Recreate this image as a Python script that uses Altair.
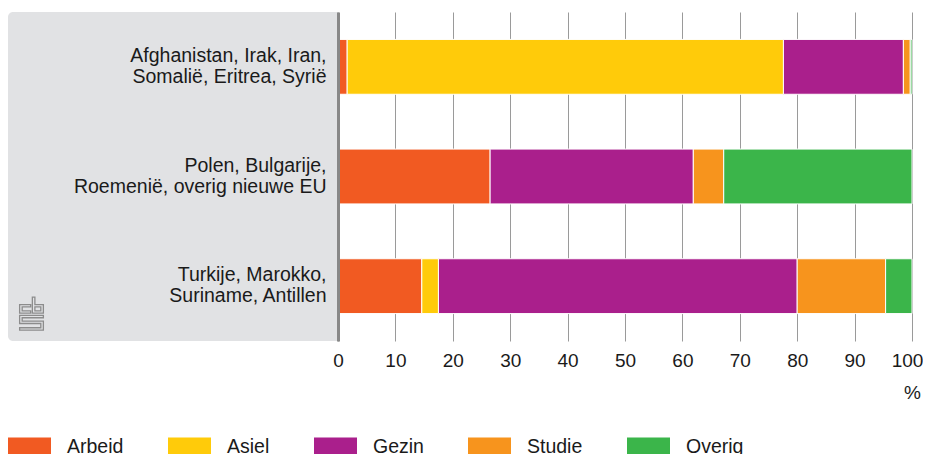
import altair as alt
import pandas as pd

groups = [
    "Afghanistan, Irak, Iran,|Somalië, Eritrea, Syrië",
    "Polen, Bulgarije,|Roemenië, overig nieuwe EU",
    "Turkije, Marokko,|Suriname, Antillen",
]
motives = ["Arbeid", "Asiel", "Gezin", "Studie", "Overig"]
colors = ["#f15a22", "#ffcb0a", "#aa1f8c", "#f7941d", "#3bb54a"]

arbeid = [1.6, 26.5, 14.6]
asiel = [76.0, 0.0, 2.9]
gezin = [20.9, 35.4, 62.5]
studie = [1.2, 5.3, 15.4]
overig = [0.3, 32.8, 4.6]

series = [arbeid, asiel, gezin, studie, overig]
rows = []
for mi, (m, vals) in enumerate(zip(motives, series)):
    for g, v in zip(groups, vals):
        if v > 0:
            rows.append({"groep": g, "motief": m, "order": mi, "waarde": v})
df = pd.DataFrame(rows)

FONT = "Liberation Sans"
TXT = "#1a1a1a"

panel = alt.Chart(pd.DataFrame({"p": [0]})).mark_rect(
    color="#e1e2e4", cornerRadiusTopLeft=5, cornerRadiusBottomLeft=5
).encode(
    x=alt.value(-330), x2=alt.value(0), y=alt.value(0), y2=alt.value(329)
)

logo_path = (
    "M-0.7,-0.55H-0.05V-0.42H-0.55V-0.18H-0.05V-0.05H-0.7Z "
    "M0.05,-1H0.2V-0.55H0.7V-0.05H0.05Z M0.2,-0.42H0.55V-0.18H0.2Z "
    "M-0.7,0.08H0.7V0.22H-0.55V0.42H0.7V0.95H-0.7V0.81H0.55V0.56H-0.7Z"
)
logo = alt.Chart(pd.DataFrame({"p": [0]})).mark_point(
    shape=logo_path, filled=False, stroke="#8c8c8c", strokeWidth=1.3, size=1150, opacity=1
).encode(x=alt.value(-306.5), y=alt.value(302))

bars = alt.Chart(df).mark_bar(stroke="white", strokeWidth=1).encode(
    x=alt.X(
        "sum(waarde):Q",
        stack="zero",
        scale=alt.Scale(domain=[0, 100], nice=False),
        axis=alt.Axis(
            values=list(range(0, 101, 10)),
            title="%",
            titleX=574,
            titleY=57,
            titleAlign="center",
            titleBaseline="alphabetic",
            titleFont=FONT,
            titleFontSize=19,
            titleFontWeight="normal",
            titleColor=TXT,
            grid=True,
            gridColor="#9a9a9a",
            gridWidth=1,
            ticks=False,
            tickSize=0,
            domain=False,
            labelFlush=False,
            labelOffset={"condition": {"test": "datum.value == 100", "value": -5}, "value": 0},
            labelFont=FONT,
            labelFontSize=19,
            labelColor=TXT,
            labelPadding=10,
        ),
    ),
    y=alt.Y(
        "groep:N",
        sort=groups,
        scale=alt.Scale(paddingInner=0.5, paddingOuter=0.25),
        axis=alt.Axis(
            title=None,
            zindex=1,
            labelExpr="split(datum.label, '|')",
            labelFont=FONT,
            labelFontSize=19.5,
            labelColor=TXT,
            labelLineHeight=21,
            labelOffset=-11,
            labelPadding=12,
            labelLimit=400,
            ticks=False,
            tickSize=0,
            grid=False,
            domain=True,
            domainColor="#888888",
            domainWidth=3,
        ),
    ),
    color=alt.Color(
        "motief:N",
        scale=alt.Scale(domain=motives, range=colors),
        legend=alt.Legend(
            title=None,
            orient="none",
            legendX=-330,
            legendY=413,
            direction="horizontal",
            columns=5,
            columnPadding=44,
            symbolType="M-1,-0.42H1V0.42H-1Z",
            symbolSize=1849,
            symbolStrokeWidth=0,
            symbolOpacity=1,
            labelOffset=16,
            labelFont=FONT,
            labelFontSize=19.5,
            labelColor=TXT,
        ),
    ),
    order=alt.Order("order:Q"),
)

chart = alt.layer(panel, bars, logo).properties(
    width=574,
    height=329,
    padding={"top": 4, "left": 0, "right": 0, "bottom": 0},
    background="white",
).configure_view(stroke=None)

chart.save("out.html", embed_options={"renderer": "svg", "actions": False})
